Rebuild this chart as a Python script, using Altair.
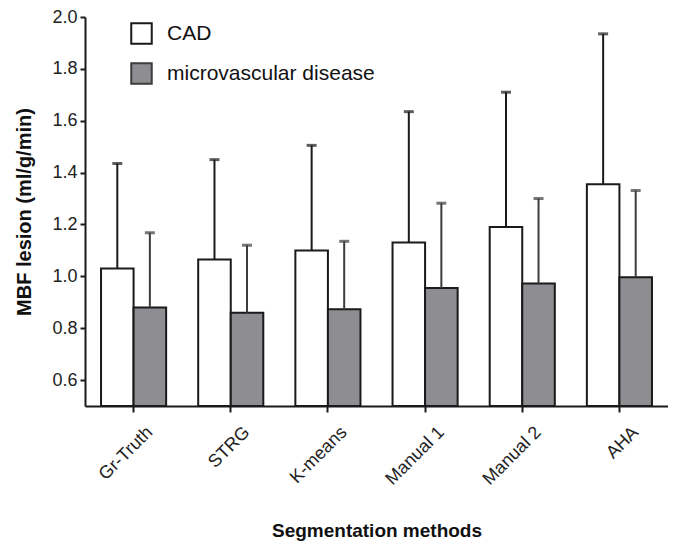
import altair as alt
import pandas as pd

methods = ["Gr-Truth", "STRG", "K-means", "Manual 1", "Manual 2", "AHA"]
groups = ["CAD", "microvascular disease"]
cad_mean = [1.03, 1.065, 1.10, 1.13, 1.19, 1.355]
cad_upper = [1.435, 1.45, 1.505, 1.635, 1.71, 1.935]
micro_mean = [0.88, 0.86, 0.873, 0.955, 0.972, 0.996]
micro_upper = [1.168, 1.12, 1.135, 1.282, 1.30, 1.331]

rows = []
for i, m in enumerate(methods):
    rows.append({"method": m, "group": groups[0], "mean": cad_mean[i], "upper": cad_upper[i]})
    rows.append({"method": m, "group": groups[1], "mean": micro_mean[i], "upper": micro_upper[i]})
df = pd.DataFrame(rows)

FONT = "Liberation Sans"
INK = "#1a1a1a"

base = alt.Chart(df).encode(
    x=alt.X(
        "method:N",
        sort=methods,
        scale=alt.Scale(paddingInner=0.33, paddingOuter=0.165),
        axis=alt.Axis(
            title="Segmentation methods",
            labelAngle=-45,
            labelFontSize=18,
            labelFont=FONT,
            labelColor="#222222",
            labelPadding=11,
            labelOffset=10,
            tickSize=6,
            tickWidth=2,
            tickColor=INK,
            domainColor=INK,
            domainWidth=2,
            titleFont=FONT,
            titleFontSize=19,
            titleFontWeight="bold",
            titleColor="#111111",
            titlePadding=33,
            grid=False,
        ),
    ),
    xOffset=alt.XOffset("group:N", sort=groups, scale=alt.Scale(paddingInner=0, paddingOuter=0)),
)

yscale = alt.Scale(domain=[0.5, 2.0], zero=False, nice=False)

bars = base.mark_bar(stroke=INK, strokeWidth=2).encode(
    y=alt.Y(
        "mean:Q",
        scale=yscale,
        axis=alt.Axis(
            title="MBF lesion (ml/g/min)",
            values=[0.6, 0.8, 1.0, 1.2, 1.4, 1.6, 1.8, 2.0],
            format=".1f",
            labelFontSize=18,
            labelFont=FONT,
            labelColor="#222222",
            labelPadding=3,
            tickSize=5,
            tickWidth=2,
            tickColor=INK,
            domainColor=INK,
            domainWidth=2,
            titleFont=FONT,
            titleFontSize=20,
            titleFontWeight="bold",
            titleColor="#111111",
            titleX=-51,
            grid=False,
        ),
    ),
    y2=alt.datum(0.5),
    fill=alt.Fill(
        "group:N",
        sort=groups,
        scale=alt.Scale(domain=groups, range=["#ffffff", "#8e8d92"]),
        legend=alt.Legend(
            title=None,
            orient="none",
            legendX=45,
            legendY=5,
            symbolType="square",
            symbolSize=420,
            symbolStrokeColor=INK,
            symbolStrokeWidth=2,
            labelFontSize=21,
            labelFont=FONT,
            labelColor="#111111",
            labelOffset=14,
            labelLimit=400,
            rowPadding=11,
        ),
    ),
)

err_color = alt.Color(
    "group:N", scale=alt.Scale(domain=groups, range=[INK, "#3c3c3c"]), legend=None
)

rules = base.mark_rule(strokeWidth=2).encode(
    y=alt.Y("mean:Q", scale=yscale),
    y2="upper:Q",
    color=err_color,
)

caps = base.mark_tick(thickness=3, size=10).encode(
    y=alt.Y("upper:Q", scale=yscale),
    color=err_color,
)

chart = (
    alt.layer(bars, rules, caps)
    .properties(
        width=583,
        height=389,
        padding={"left": 77, "top": 9, "right": 0, "bottom": 135},
        autosize=alt.AutoSizeParams(type="none"),
        background="white",
    )
    .configure_view(stroke=None)
)

chart.save("out.html", embed_options={"renderer": "svg", "actions": False})
